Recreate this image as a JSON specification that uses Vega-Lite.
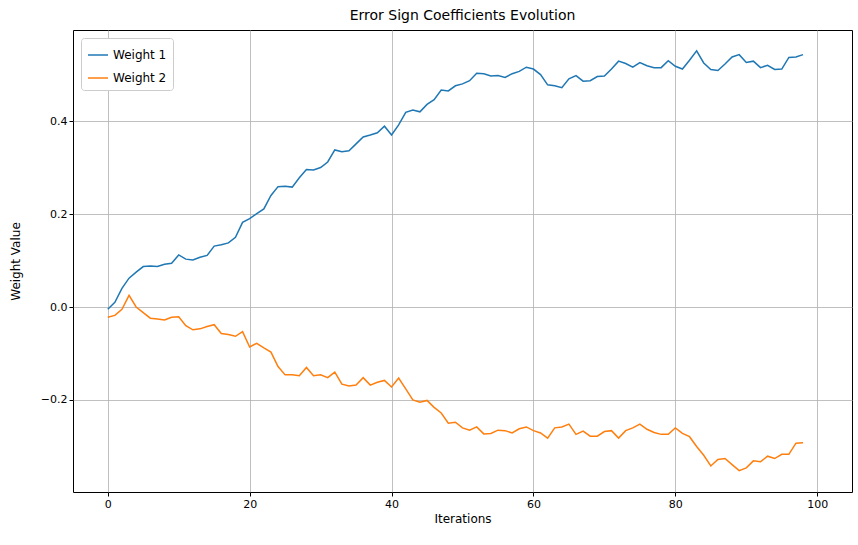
{
  "$schema": "https://vega.github.io/schema/vega-lite/v6.json",
  "width": 779,
  "height": 462,
  "autosize": "none",
  "padding": {"left": 73, "top": 30, "right": 6, "bottom": 53},
  "background": "white",
  "title": {"text": "Error Sign Coefficients Evolution", "fontSize": 14, "fontWeight": "normal", "font": "DejaVu Sans", "offset": 7},
  "config": {
    "font": "DejaVu Sans",
    "view": {"stroke": "black", "strokeWidth": 1},
    "axis": {"labelFont": "DejaVu Sans", "titleFont": "DejaVu Sans", "labelFontSize": 11, "titleFontSize": 12, "titleFontWeight": "normal", "labelColor": "black", "titleColor": "black", "gridColor": "#b0b0b0", "gridWidth": 0.8, "domain": false, "tickColor": "black", "tickSize": 4}
  },
  "data": {
    "values": [
      {"x":0,"w1":-0.005,"w2":-0.022},{"x":1,"w1":0.01,"w2":-0.018},{"x":2,"w1":0.04,"w2":-0.005},{"x":3,"w1":0.062,"w2":0.025},{"x":4,"w1":0.075,"w2":0.0},
      {"x":5,"w1":0.087,"w2":-0.012},{"x":6,"w1":0.088,"w2":-0.024},{"x":7,"w1":0.087,"w2":-0.026},{"x":8,"w1":0.092,"w2":-0.028},{"x":9,"w1":0.094,"w2":-0.022},
      {"x":10,"w1":0.112,"w2":-0.021},{"x":11,"w1":0.103,"w2":-0.04},{"x":12,"w1":0.101,"w2":-0.049},{"x":13,"w1":0.107,"w2":-0.047},{"x":14,"w1":0.111,"w2":-0.042},
      {"x":15,"w1":0.131,"w2":-0.038},{"x":16,"w1":0.134,"w2":-0.057},{"x":17,"w1":0.138,"w2":-0.059},{"x":18,"w1":0.15,"w2":-0.063},{"x":19,"w1":0.182,"w2":-0.053},
      {"x":20,"w1":0.19,"w2":-0.086},{"x":21,"w1":0.201,"w2":-0.078},{"x":22,"w1":0.211,"w2":-0.088},{"x":23,"w1":0.24,"w2":-0.097},{"x":24,"w1":0.259,"w2":-0.128},
      {"x":25,"w1":0.26,"w2":-0.146},{"x":26,"w1":0.258,"w2":-0.146},{"x":27,"w1":0.278,"w2":-0.148},{"x":28,"w1":0.296,"w2":-0.13},{"x":29,"w1":0.295,"w2":-0.148},
      {"x":30,"w1":0.3,"w2":-0.146},{"x":31,"w1":0.312,"w2":-0.152},{"x":32,"w1":0.338,"w2":-0.14},{"x":33,"w1":0.334,"w2":-0.166},{"x":34,"w1":0.336,"w2":-0.17},
      {"x":35,"w1":0.351,"w2":-0.168},{"x":36,"w1":0.366,"w2":-0.152},{"x":37,"w1":0.37,"w2":-0.168},{"x":38,"w1":0.375,"w2":-0.162},{"x":39,"w1":0.389,"w2":-0.158},
      {"x":40,"w1":0.37,"w2":-0.172},{"x":41,"w1":0.392,"w2":-0.153},{"x":42,"w1":0.419,"w2":-0.176},{"x":43,"w1":0.424,"w2":-0.2},{"x":44,"w1":0.42,"w2":-0.205},
      {"x":45,"w1":0.436,"w2":-0.201},{"x":46,"w1":0.446,"w2":-0.216},{"x":47,"w1":0.467,"w2":-0.228},{"x":48,"w1":0.465,"w2":-0.25},{"x":49,"w1":0.476,"w2":-0.248},
      {"x":50,"w1":0.48,"w2":-0.26},{"x":51,"w1":0.487,"w2":-0.265},{"x":52,"w1":0.503,"w2":-0.258},{"x":53,"w1":0.502,"w2":-0.273},{"x":54,"w1":0.497,"w2":-0.272},
      {"x":55,"w1":0.498,"w2":-0.265},{"x":56,"w1":0.494,"w2":-0.266},{"x":57,"w1":0.502,"w2":-0.271},{"x":58,"w1":0.507,"w2":-0.262},{"x":59,"w1":0.516,"w2":-0.258},
      {"x":60,"w1":0.512,"w2":-0.266},{"x":61,"w1":0.5,"w2":-0.271},{"x":62,"w1":0.478,"w2":-0.282},{"x":63,"w1":0.476,"w2":-0.26},{"x":64,"w1":0.472,"w2":-0.258},
      {"x":65,"w1":0.491,"w2":-0.252},{"x":66,"w1":0.498,"w2":-0.274},{"x":67,"w1":0.486,"w2":-0.267},{"x":68,"w1":0.487,"w2":-0.278},{"x":69,"w1":0.496,"w2":-0.278},
      {"x":70,"w1":0.497,"w2":-0.268},{"x":71,"w1":0.512,"w2":-0.266},{"x":72,"w1":0.529,"w2":-0.282},{"x":73,"w1":0.524,"w2":-0.266},{"x":74,"w1":0.516,"w2":-0.26},
      {"x":75,"w1":0.526,"w2":-0.252},{"x":76,"w1":0.519,"w2":-0.263},{"x":77,"w1":0.515,"w2":-0.27},{"x":78,"w1":0.515,"w2":-0.274},{"x":79,"w1":0.53,"w2":-0.274},
      {"x":80,"w1":0.518,"w2":-0.26},{"x":81,"w1":0.512,"w2":-0.272},{"x":82,"w1":0.531,"w2":-0.279},{"x":83,"w1":0.551,"w2":-0.3},{"x":84,"w1":0.525,"w2":-0.319},
      {"x":85,"w1":0.511,"w2":-0.342},{"x":86,"w1":0.509,"w2":-0.328},{"x":87,"w1":0.523,"w2":-0.326},{"x":88,"w1":0.538,"w2":-0.339},{"x":89,"w1":0.543,"w2":-0.352},
      {"x":90,"w1":0.526,"w2":-0.346},{"x":91,"w1":0.529,"w2":-0.331},{"x":92,"w1":0.515,"w2":-0.333},{"x":93,"w1":0.52,"w2":-0.321},{"x":94,"w1":0.511,"w2":-0.326},
      {"x":95,"w1":0.512,"w2":-0.317},{"x":96,"w1":0.537,"w2":-0.317},{"x":97,"w1":0.538,"w2":-0.293},{"x":98,"w1":0.543,"w2":-0.292}
    ]
  },
  "transform": [
    {"fold": ["w1", "w2"], "as": ["key", "value"]},
    {"lookup": "key", "from": {"data": {"values": [{"key": "w1", "series": "Weight 1"}, {"key": "w2", "series": "Weight 2"}]}, "key": "key", "fields": ["series"]}}
  ],
  "mark": {"type": "line", "strokeWidth": 1.5, "clip": true},
  "encoding": {
    "x": {"field": "x", "type": "quantitative", "title": "Iterations", "scale": {"domain": [-4.9, 104.9], "nice": false, "zero": false}, "axis": {"values": [0, 20, 40, 60, 80, 100], "labelFlush": false}},
    "y": {"field": "value", "type": "quantitative", "title": "Weight Value", "scale": {"domain": [-0.398, 0.596], "nice": false, "zero": false}, "axis": {"values": [-0.2, 0, 0.2, 0.4], "format": ".1f", "labelExpr": "replace(datum.label, '-', '\u2212')", "labelFlush": false, "titlePadding": 18}},
    "color": {"field": "series", "type": "nominal", "title": null, "scale": {"domain": ["Weight 1", "Weight 2"], "range": ["#1f77b4", "#ff7f0e"]},
      "legend": {"orient": "top-left", "offset": 8, "labelFontSize": 12, "symbolType": "stroke", "symbolSize": 400, "symbolStrokeWidth": 1.5, "padding": 6, "strokeColor": "#cccccc", "fillColor": "white", "cornerRadius": 3, "rowPadding": 6}}
  }
}
